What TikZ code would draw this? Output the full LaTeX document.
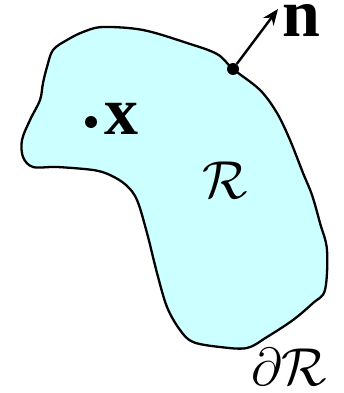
\documentclass[tikz,border=0pt]{standalone}
\usepackage{graphicx}
\usepackage{fontspec}
\setmainfont{Liberation Serif}
\usetikzlibrary{arrows.meta}
\definecolor{regfill}{HTML}{CCFFFF}
\newcommand{\bigmath}[1]{\scalebox{2.15}{\Huge$#1$}}
\tikzset{
  outline/.style={draw=black, line width=2.3pt, fill=regfill},
  pt/.style={circle, fill=black, inner sep=0pt, minimum size=12pt},
  lbl/.style={inner sep=0pt, text height=30pt, text depth=0pt, font=\bfseries\fontsize{68}{70}\selectfont},
  mlbl/.style={inner sep=0pt},
  vec/.style={line width=2.4pt, -{Stealth[length=16pt,width=13pt]}}
}
\begin{document}
\begin{tikzpicture}[x=1pt,y=-1pt]
\useasboundingbox (0,0) rectangle (343,393);
\draw[outline] plot[smooth cycle, tension=0.55] coordinates {
 (103,27) (143,30) (187,43) (217,54) (233,69) (260,90) (277,113) (290,140)
 (303,173) (312,195) (320,223) (327,250) (325,290) (313,303) (293,320)
 (267,337) (247,348) (220,347) (193,342) (180,330) (167,307) (157,273)
 (147,233) (137,200) (126,185) (110,175) (93,170) (57,167) (33,167) (23,157)
 (22,140) (30,120) (40,100) (43,83) (47,67) (53,50) (67,40) (83,32)};
\node[pt] (p) at (233,69) {};
\coordinate (tip) at (278,9);
\draw[vec] (p) -- (tip);
\node[lbl, anchor=base west] (n) at (282,37) {n};
\node[pt] (xd) at (91,122) {};
\node[lbl, anchor=base west] (x) at (104,134) {x};
\node[mlbl, anchor=base] (R) at (225,198) {\bigmath{\mathcal{R}}};
\node[mlbl, anchor=base] (dR) at (289,385) {\bigmath{\partial\mathcal{R}}};
\end{tikzpicture}
\end{document}
